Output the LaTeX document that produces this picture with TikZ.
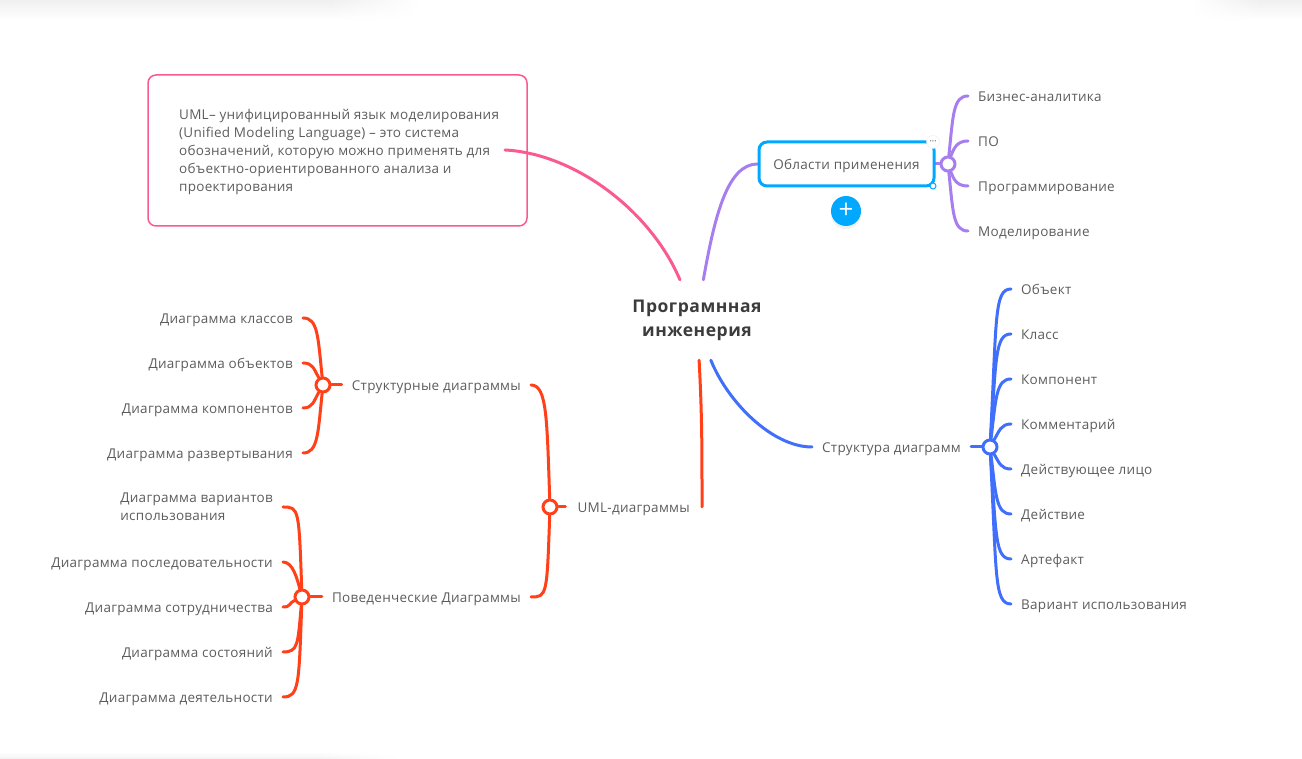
\documentclass[tikz,border=0pt]{standalone}
\usepackage{fontspec}
\setmainfont[LetterSpace=2]{Open Sans}
\newfontfamily\headfont[LetterSpace=3]{Open Sans}
\usetikzlibrary{backgrounds,fadings,shadows}
\definecolor{violetline}{HTML}{A67EF0}
\definecolor{blueline}{HTML}{3F6FFB}
\definecolor{redline}{HTML}{FF4019}
\definecolor{pinkline}{HTML}{F95A8F}
\definecolor{selectblue}{HTML}{00A8FF}
\definecolor{labelgrey}{HTML}{5C5C5C}
\definecolor{maingrey}{HTML}{3C3C3C}
\tikzset{
    leaf/.style={text=labelgrey,font=\fontsize{13.5}{18}\selectfont,inner xsep=10pt,inner ysep=0pt,text height=12pt,text depth=1pt},
    hub/.style={circle,draw=#1,fill=white,line width=3pt,minimum size=14pt,inner sep=0pt},
    wire/.style={draw=#1,line width=3pt,line cap=round},
    close/.style={out distance=10pt,in distance=10pt},
    near/.style={out distance=40pt,in distance=15pt},
    mid/.style={out distance=80pt,in distance=16pt},
    far/.style={out distance=120pt,in distance=17pt},
    topband/.style={top color=black!6,bottom color=white,draw=none}
}
\begin{document}
\begin{tikzpicture}[x=1pt,y=1pt]
        \useasboundingbox (0,0) rectangle (1302,759);
        \shade[topband] (0,739) rectangle (330,759);
        \shade[topband,path fading=east] (330,739) rectangle (420,759);
        \shade[topband] (1260,739) rectangle (1302,759);
        \shade[topband,path fading=west] (1190,739) rectangle (1260,759);
        \shade[top color=white,bottom color=black!5,draw=none] (0,0) rectangle (320,7);
        \shade[top color=white,bottom color=black!5,draw=none,path fading=east] (320,0) rectangle (400,7);

        \node[text=maingrey,font=\headfont\fontsize{17.5}{24}\bfseries\selectfont,align=center,minimum width=130pt,minimum height=80pt,inner sep=0pt] (central) at (697,439) {\raisebox{-5pt}{Програмнная}\\\raisebox{-5pt}{инженерия}};

        % note on the left
        \node[draw=pinkline,line width=1.5pt,rounded corners=8pt,minimum width=379pt,minimum height=151pt] (notebox) at (337.5,608.5) {};
        \node[text=labelgrey,font=\fontsize{13.5}{18}\selectfont,align=left,anchor=west,inner sep=0pt] (notetext) at (179,607) {UML– унифицированный язык моделирования\\(Unified Modeling Language) – это система\\обозначений, которую можно применять для\\объектно-ориентированного анализа и\\проектирования};
        \coordinate (notestart) at (505,609);

        % top right branch
        \node[leaf,draw=selectblue,line width=3pt,rounded corners=8pt,fill=white,minimum width=175pt,minimum height=44pt] (areas) at (846.5,595) {Области применения};
        \node[hub=violetline] (hubareas) at (948,595) {};
        \node[leaf,anchor=west] (biz) at (968,663) {Бизнес-аналитика};
        \node[leaf,anchor=west] (soft) at (968,618) {ПО};
        \node[leaf,anchor=west] (prog) at (968,573) {Программирование};
        \node[leaf,anchor=west] (model) at (968,528) {Моделирование};
        \node[circle,draw=black!8,fill=white,minimum size=13pt,inner sep=0pt,text=black!50,font=\fontsize{6}{6}\selectfont] (menu) at (933,617) {•••};
        \node[circle,draw=selectblue,fill=white,line width=1pt,minimum size=6pt,inner sep=0pt] (grip) at (933,573) {};
        \node[circle,fill=selectblue,text=white,minimum size=30pt,inner sep=0pt,font=\fontsize{26}{26}\selectfont,drop shadow={opacity=.12,shadow xshift=0pt,shadow yshift=-3pt}] (plus) at (846,548) {\raisebox{-1.5pt}{+}};

        % bottom right branch
        \node[leaf,anchor=west] (struct) at (812,312) {Структура диаграмм};
        \node[hub=blueline] (hubstruct) at (990,312) {};
        \node[leaf,anchor=west] (item1) at (1011,470) {Объект};
        \node[leaf,anchor=west] (item2) at (1011,425) {Класс};
        \node[leaf,anchor=west] (item3) at (1011,380) {Компонент};
        \node[leaf,anchor=west] (item4) at (1011,335) {Комментарий};
        \node[leaf,anchor=west] (item5) at (1011,290) {Действующее лицо};
        \node[leaf,anchor=west] (item6) at (1011,245) {Действие};
        \node[leaf,anchor=west] (item7) at (1011,200) {Артефакт};
        \node[leaf,anchor=west] (item8) at (1011,155) {Вариант использования};

        % left branch
        \node[leaf,anchor=east,inner xsep=12pt] (uml) at (702,252) {UML-диаграммы};
        \node[hub=redline] (hubuml) at (550,252) {};
        \node[leaf,anchor=east] (statics) at (531,374) {Структурные диаграммы};
        \node[leaf,anchor=east] (behav) at (531,162) {Поведенческие Диаграммы};
        \node[hub=redline] (hubstatics) at (323,374) {};
        \node[hub=redline] (hubbehav) at (302,162) {};
        \node[leaf,anchor=east] (stat1) at (303,441) {Диаграмма классов};
        \node[leaf,anchor=east] (stat2) at (303,396) {Диаграмма объектов};
        \node[leaf,anchor=east] (stat3) at (303,351) {Диаграмма компонентов};
        \node[leaf,anchor=east] (stat4) at (303,306) {Диаграмма развертывания};
        \node[leaf,anchor=east,align=left,text height=,text depth=] (beh1) at (283,252) {Диаграмма вариантов\\использования};
        \node[leaf,anchor=east] (beh2) at (283,197) {Диаграмма последовательности};
        \node[leaf,anchor=east] (beh3) at (283,152) {Диаграмма сотрудничества};
        \node[leaf,anchor=east] (beh4) at (283,107) {Диаграмма состояний};
        \node[leaf,anchor=east] (beh5) at (283,62) {Диаграмма деятельности};

        \begin{scope}[on background layer]
        \path[wire=pinkline]
             (central.113) edge [out=113,in=-3,out distance=75pt,in distance=70pt] (notestart)
        ;
        \path[wire=violetline]
             (central.81) edge [out=80,in=180,out distance=65pt,in distance=30pt] (areas.west)
             (areas.east) edge (hubareas)
             (hubareas) edge [out=84,in=180,near] (biz.west)
             (hubareas) edge [out=70,in=180,close] (soft.west)
             (hubareas) edge [out=-70,in=180,close] (prog.west)
             (hubareas) edge [out=-84,in=180,near] (model.west)
        ;
        \path[wire=blueline]
             (central.289) edge [out=-68,in=180,out distance=45pt,in distance=40pt] (struct.west)
             (struct.east) edge (hubstruct)
             (hubstruct) edge [out=87,in=180,far] (item1.west)
             (hubstruct) edge [out=86,in=180,mid] (item2.west)
             (hubstruct) edge [out=83,in=180,near] (item3.west)
             (hubstruct) edge [out=60,in=180,close] (item4.west)
             (hubstruct) edge [out=-60,in=180,close] (item5.west)
             (hubstruct) edge [out=-83,in=180,near] (item6.west)
             (hubstruct) edge [out=-86,in=180,mid] (item7.west)
             (hubstruct) edge [out=-87,in=180,far] (item8.west)
        ;
        \path[wire=redline]
             (central.273) edge [out=-87,in=90] (uml.east)
             (uml.west) edge (hubuml)
             (hubuml) edge [out=92,in=0,mid] (statics.east)
             (hubuml) edge [out=-92,in=0,mid] (behav.east)
             (statics.west) edge (hubstatics)
             (behav.west) edge (hubbehav)
             (hubstatics) edge [out=96,in=0,near] (stat1.east)
             (hubstatics) edge [out=120,in=0,close] (stat2.east)
             (hubstatics) edge [out=-120,in=0,close] (stat3.east)
             (hubstatics) edge [out=-96,in=0,near] (stat4.east)
             (hubbehav) edge [out=92,in=0,mid] (beh1.east)
             (hubbehav) edge [out=105,in=0,close] (beh2.east)
             (hubbehav) edge [out=205,in=0,out distance=6pt,in distance=8pt] (beh3.east)
             (hubbehav) edge [out=-95,in=0,near] (beh4.east)
             (hubbehav) edge [out=-92,in=0,mid] (beh5.east)
        ;
        \end{scope}
    \end{tikzpicture}
\end{document}
